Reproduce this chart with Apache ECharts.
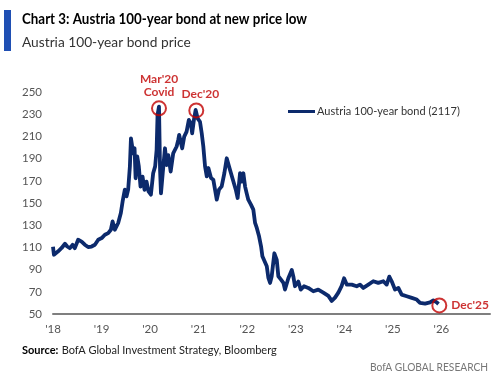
<!DOCTYPE html>
<html>
<head>
<meta charset="utf-8">
<script src="https://cdn.jsdelivr.net/npm/echarts@6/dist/echarts.min.js"></script>
<style>html,body{margin:0;padding:0;background:#fff;}#c{width:500px;height:382px;}</style>
</head>
<body>
<div id="c"></div>
<script>
var dates = ['2018-01-01','2018-01-08','2018-02-09','2018-03-07','2018-04-01','2018-04-18','2018-05-08','2018-05-28','2018-06-14','2018-07-09','2018-08-04','2018-08-28','2018-09-22','2018-10-18','2018-11-12','2018-12-07',
'2019-01-02','2019-01-26','2019-02-20','2019-03-12','2019-03-25','2019-04-11','2019-05-06','2019-05-26','2019-06-08','2019-06-25','2019-07-08','2019-07-20','2019-08-02','2019-08-10','2019-08-19','2019-08-27','2019-09-06','2019-09-14','2019-09-26','2019-10-08','2019-10-21','2019-11-05','2019-11-20','2019-12-05','2019-12-20',
'2020-01-07','2020-01-24','2020-02-08','2020-02-19','2020-02-26','2020-03-08','2020-03-16','2020-03-23','2020-04-05','2020-04-22','2020-05-05','2020-05-17','2020-06-04','2020-06-23','2020-07-06','2020-07-19','2020-07-31','2020-08-07','2020-08-20','2020-08-30','2020-09-14','2020-10-02','2020-10-19','2020-11-03','2020-11-13','2020-11-26','2020-12-09','2020-12-24',
'2021-01-11','2021-01-24','2021-02-05','2021-02-18','2021-03-03','2021-03-15','2021-04-04','2021-04-21','2021-05-04','2021-05-17','2021-06-03','2021-06-23','2021-07-13','2021-07-31','2021-08-17','2021-09-01','2021-09-19','2021-10-07','2021-10-21','2021-11-08','2021-11-21','2021-12-03','2021-12-16','2021-12-28',
'2022-01-09','2022-01-29','2022-02-16','2022-03-01','2022-03-14','2022-03-31','2022-04-15','2022-04-25','2022-05-09','2022-05-28','2022-06-09','2022-06-22','2022-07-04','2022-07-24','2022-08-11','2022-08-23','2022-09-12','2022-09-30','2022-10-12','2022-11-06','2022-12-02','2022-12-14','2022-12-26',
'2023-01-20','2023-02-07','2023-03-04','2023-04-05','2023-05-13','2023-06-19','2023-07-27','2023-09-03','2023-09-28','2023-10-23','2023-11-17','2023-12-12','2023-12-30',
'2024-01-19','2024-02-26','2024-04-03','2024-04-28','2024-05-23','2024-06-30','2024-08-06','2024-09-13','2024-10-21','2024-11-15','2024-12-05','2024-12-23',
'2025-01-17','2025-02-11','2025-03-08','2025-04-15','2025-05-23','2025-06-29','2025-07-24','2025-08-31','2025-10-07','2025-11-01','2025-11-27','2025-12-10'];
var prices = [110.6,103.4,106.5,109.5,113.3,110.8,109.3,112.3,109.3,116.9,115.2,112.4,110.3,110.8,112.4,116.9,
118.4,121.4,122.9,125.9,133.4,125.9,132,141,151.2,162,156,162,183,208.3,206.8,194.7,199.3,172.3,192,183,164.8,173.8,161.9,169.2,160.4,
157.5,176.8,183,197.8,229.3,236.8,179.8,158.7,176.8,199.3,184.2,193.2,178.3,194.7,193.2,200.9,206.8,211.3,212.8,199.3,209.8,214.3,224.8,221.8,212.8,224.8,233.8,226.3,
223.2,212.8,200.9,183,174,181.5,172.5,171,162,153,162,165,176.8,190.3,183,176.8,169.3,162,154.5,176.8,169.3,176.8,164.8,158.7,
153,148.5,144,132,127.5,120,111,102,100.5,93,82.5,78,84,104.7,98.7,84,81,78,72,82.2,89.7,83.7,75,
79.3,72,75,73.5,70.5,72,69.3,66.3,61.8,64.8,69.3,75.3,82.2,
76.5,76.5,75,76.5,73.5,76.5,79.5,78,79.5,76.5,83.7,79.5,
72,73.5,67.5,66,64.5,63,60,59.3,60.4,62.2,60.4,59];
var xTicks = ["'18","'19","'20","'21","'22","'23","'24","'25","'26"];
var noteDates = ['2020-03-08','2020-12-14','2025-12-16'];
var noteValues = [235.3,233.4,57.7];
var noteTexts = ["Mar'20\nCovid","Dec'20","Dec'25"];
var seriesName = 'Austria 100-year bond (2117)';

function dec(d){
  var p = d.split('-').map(Number);
  var t = Date.UTC(p[0],p[1]-1,p[2]);
  var s = Date.UTC(p[0],0,1), e = Date.UTC(p[0]+1,0,1);
  return p[0] + (t-s)/(e-s);
}
var lineData = dates.map(function(d,i){return [dec(d),prices[i]];});
var noteData = noteDates.map(function(d,i){
  return {value:[dec(d),noteValues[i]], label:{position: i===2?'right':'top', formatter: noteTexts[i], distance: i===2?4:2, offset: i===1?[4,0]:[0,0]}};
});

var chart = echarts.init(document.getElementById('c'));
var F = 'Lato, "Liberation Sans", sans-serif';
chart.setOption({
  animation:false,
  backgroundColor:'#fff',
  graphic:[
    {type:'rect', left:4, top:10, shape:{width:7,height:41}, style:{fill:'#1f4fb3'}},
    {type:'text', x:22, y:12, scaleX:0.89, style:{text:'Chart 3: Austria 100-year bond at new price low', font:'bold 15px '+F, fill:'#000'}},
    {type:'text', x:22, y:35, scaleX:0.98, style:{text:'Austria 100-year bond price', font:'14px '+F, fill:'#333'}},
    {type:'text', x:22, y:344, style:{rich:{b:{font:'bold 11px '+F, fill:'#000'}, n:{font:'11px '+F, fill:'#222'}}, text:'{b|Source:} {n|BofA Global Investment Strategy, Bloomberg}'}},
    {type:'text', x:370, y:361, scaleX:0.85, style:{text:'BofA GLOBAL RESEARCH', font:'12px '+F, fill:'#777'}}
  ],
  legend:{show:true, left:283, top:101, itemWidth:27, itemHeight:3, itemGap:2, icon:'rect',
    textStyle:{fontFamily:F, fontSize:11, color:'#333', padding:[0,0,0,-3]}, data:[seriesName]},
  grid:{left:53, right:10, top:92, bottom:68, containLabel:false},
  xAxis:{type:'value', min:2018, max:2027, interval:1,
    axisLine:{show:true, lineStyle:{color:'#7f7f7f', width:2}},
    axisTick:{show:false}, splitLine:{show:false},
    axisLabel:{showMaxLabel:false, margin:9, fontFamily:F, fontSize:11.5, color:'#555',
      formatter:function(v){var i=Math.round(v-2018);return xTicks[i]||'';}}},
  yAxis:{type:'value', min:50, max:250, interval:20,
    axisLine:{show:false}, axisTick:{show:false}, splitLine:{show:false},
    axisLabel:{margin:11, fontFamily:F, fontSize:11.5, color:'#555'}},
  series:[
    {name:seriesName, type:'line', data:lineData, showSymbol:false, symbol:'none',
      lineStyle:{color:'#0c2a6c', width:3.8, join:'round'}, itemStyle:{color:'#0c2a6c'}, z:2},
    {type:'scatter', data:noteData, symbol:'circle', symbolSize:14, z:3,
      itemStyle:{color:'rgba(0,0,0,0)', borderColor:'#c00000', borderWidth:2},
      label:{show:true, color:'#c00000', fontFamily:F, fontWeight:'bold', fontSize:12, lineHeight:13}}
  ]
});
</script>
</body>
</html>
